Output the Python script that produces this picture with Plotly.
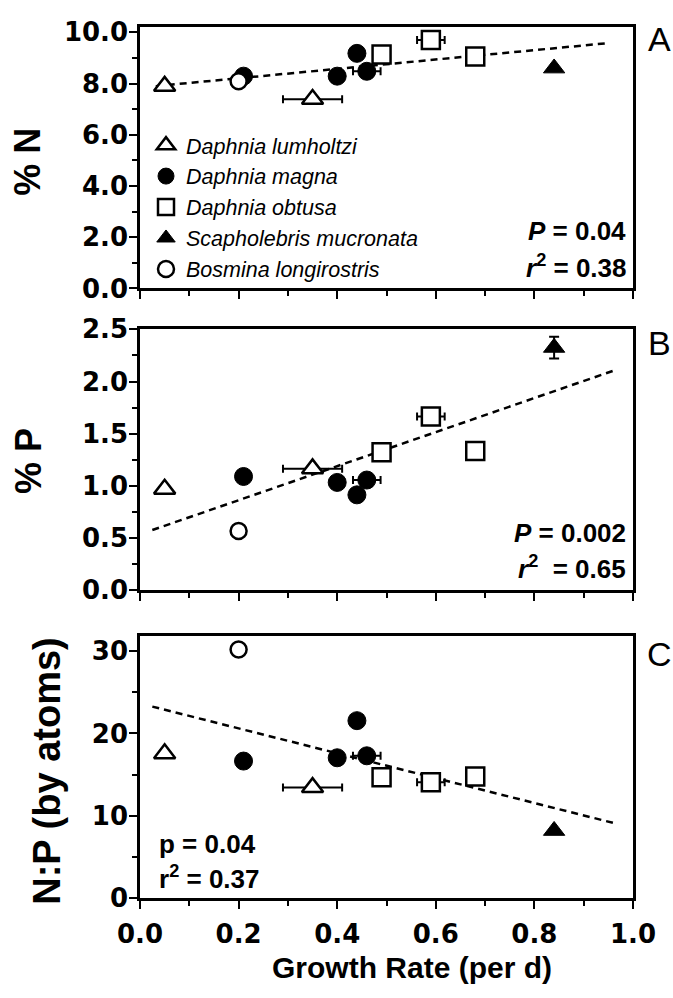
import plotly.graph_objects as go

# ---------------- data ----------------
species_names = ["Daphnia lumholtzi", "Daphnia magna", "Daphnia obtusa",
                 "Scapholebris mucronata", "Bosmina longirostris"]

lumholtzi_rate = [0.05, 0.35]
lumholtzi_rate_err = [0.0, 0.06]
lumholtzi_N = [7.90, 7.39]
lumholtzi_P = [0.97, 1.165]
lumholtzi_NP = [17.55, 13.44]

magna_rate = [0.21, 0.40, 0.44, 0.46]
magna_rate_err = [0.0, 0.0, 0.0, 0.028]
magna_N = [8.29, 8.29, 9.18, 8.48]
magna_P = [1.09, 1.033, 0.914, 1.056]
magna_NP = [16.64, 17.04, 21.55, 17.28]

obtusa_rate = [0.49, 0.59, 0.68]
obtusa_rate_err = [0.0, 0.028, 0.0]
obtusa_N = [9.14, 9.70, 9.06]
obtusa_P = [1.323, 1.664, 1.333]
obtusa_NP = [14.68, 14.08, 14.76]

scapho_rate = [0.84]
scapho_N = [8.60]
scapho_P = [2.325]
scapho_P_err = [0.105]
scapho_NP = [8.18]

bosmina_rate = [0.20]
bosmina_N = [8.09]
bosmina_P = [0.567]
bosmina_NP = [30.2]

# regression lines (end points)
trendA_x = [0.032, 0.944]
trendA_y = [7.90, 9.57]
trendB_x = [0.025, 0.965]
trendB_y = [0.577, 2.111]
trendC_x = [0.025, 0.965]
trendC_y = [23.26, 9.05]

x_ticks = [0.0, 0.2, 0.4, 0.6, 0.8, 1.0]
stats_A = ["<b><i>P</i> = 0.04</b>", "<b><i>r</i><sup>2</sup> = 0.38</b>"]
stats_B = ["<b><i>P</i> = 0.002</b>", "<b><i>r</i><sup>2</sup>  = 0.65</b>"]
stats_C = ["<b>p = 0.04</b>", "<b>r<sup>2</sup> = 0.37</b>"]

# ---------------- figure ----------------
W, H = 673, 998
ML, MR, MT, MB = 140, 40, 15, 100
PW = W - ML - MR
PH = H - MT - MB


def px2x(px):
    return (px - ML) / PW


def py2y(py):
    return (H - MB - py) / PH


domA = [py2y(280), 1.0]
domB = [py2y(586), py2y(321.5)]
domC = [0.0, py2y(632.3)]

fig = go.Figure()

# trend lines first (beneath markers)
for xs, ys, ax in [(trendA_x, trendA_y, ""), (trendB_x, trendB_y, "2"), (trendC_x, trendC_y, "3")]:
    fig.add_trace(go.Scatter(x=xs, y=ys, mode="lines", xaxis="x" + ax, yaxis="y" + ax,
                             line=dict(color="black", width=2.5, dash="7px,5px"),
                             showlegend=False, hoverinfo="skip"))

styles = [
    dict(symbol="triangle-up", size=18.5, color="white", line=dict(color="black", width=2.5)),
    dict(symbol="circle", size=18, color="black", line=dict(color="black", width=1)),
    dict(symbol="square", size=18, color="white", line=dict(color="black", width=2.5)),
    dict(symbol="triangle-up", size=18.5, color="black", line=dict(color="black", width=1)),
    dict(symbol="circle", size=16, color="white", line=dict(color="black", width=2.5)),
]

series = [
    (lumholtzi_rate, lumholtzi_rate_err, [lumholtzi_N, lumholtzi_P, lumholtzi_NP], None),
    (magna_rate, magna_rate_err, [magna_N, magna_P, magna_NP], None),
    (obtusa_rate, obtusa_rate_err, [obtusa_N, obtusa_P, obtusa_NP], None),
    (scapho_rate, None, [scapho_N, scapho_P, scapho_NP], scapho_P_err),
    (bosmina_rate, None, [bosmina_N, bosmina_P, bosmina_NP], None),
]

axes_ids = ["", "2", "3"]
for pi, ax in enumerate(axes_ids):
    for si, (rate, rerr, ys, perr) in enumerate(series):
        kw = {}
        if rerr is not None:
            kw["error_x"] = dict(type="data", array=rerr, visible=True, color="black",
                                 thickness=2, width=4)
        if perr is not None and pi == 1:
            kw["error_y"] = dict(type="data", array=perr, visible=True, color="black",
                                 thickness=2, width=5)
        fig.add_trace(go.Scatter(
            x=rate, y=ys[pi], mode="markers", name=species_names[si],
            xaxis="x" + ax, yaxis="y" + ax,
            marker=styles[si], showlegend=(pi == 0),
            **kw))

tickfont = dict(family="DejaVu Sans", size=26, color="black", weight="bold")

common_x = dict(range=[0, 1], showline=True, linewidth=2.5, linecolor="black", mirror=True,
                ticks="outside", ticklen=8, tickwidth=2, tickcolor="black",
                tickvals=x_ticks, tickformat=".1f",
                minor=dict(dtick=0.1, ticks="outside", ticklen=5, tickwidth=2, tickcolor="black"),
                showgrid=False, zeroline=False, tickfont=tickfont, fixedrange=True)

common_y = dict(showline=True, linewidth=2.5, linecolor="black", mirror=True,
                ticks="outside", ticklen=8, tickwidth=2, tickcolor="black",
                showgrid=False, zeroline=False, tickfont=tickfont, fixedrange=True,
                ticklabelstandoff=-4)

fig.update_layout(
    width=W, height=H,
    margin=dict(l=ML, r=MR, t=MT, b=MB),
    paper_bgcolor="white", plot_bgcolor="white",
    font=dict(family="Liberation Sans, Arial, sans-serif", color="black"),
    xaxis=dict(**common_x, anchor="y", showticklabels=False),
    xaxis2=dict(**common_x, anchor="y2", showticklabels=False, matches="x"),
    xaxis3=dict(**common_x, anchor="y3", showticklabels=True, matches="x",
                ticklabelstandoff=3),
    yaxis=dict(**common_y, domain=domA, anchor="x", range=[0, 10.21], dtick=2, tick0=0,
               tickformat=".1f",
               minor=dict(dtick=1, ticks="outside", ticklen=5, tickwidth=2, tickcolor="black")),
    yaxis2=dict(**common_y, domain=domB, anchor="x2", range=[0, 2.5], dtick=0.5, tick0=0,
                tickformat=".1f",
                minor=dict(dtick=0.25, ticks="outside", ticklen=5, tickwidth=2, tickcolor="black")),
    yaxis3=dict(**common_y, domain=domC, anchor="x3", range=[0, 31.85], dtick=10, tick0=0,
                tickformat="d",
                minor=dict(dtick=5, ticks="outside", ticklen=5, tickwidth=2, tickcolor="black")),
    showlegend=True,
    legend=dict(x=px2x(146), y=py2y(114), xanchor="left", yanchor="top",
                bgcolor="rgba(0,0,0,0)", borderwidth=0, tracegroupgap=0,
                font=dict(family="Liberation Sans, Arial, sans-serif", size=21.5,
                          style="italic", color="black"),
                itemclick=False, itemdoubleclick=False),
)

ann = []
# panel letters
for letter, py in [("A", 27), ("B", 335), ("C", 651)]:
    ann.append(dict(text=letter, x=px2x(659), y=py2y(py), xref="paper", yref="paper",
                    showarrow=False, xanchor="center", yanchor="middle",
                    font=dict(family="Liberation Sans, Arial, sans-serif", size=34, color="black")))

statfont = dict(family="Liberation Sans, Arial, sans-serif", size=26, color="black")
for txt, py in zip(stats_A, [222, 258]):
    ann.append(dict(text=txt, x=px2x(628), y=py2y(py), xref="paper", yref="paper",
                    showarrow=False, xanchor="right", yanchor="middle", font=statfont))
for txt, py in zip(stats_B, [528, 563]):
    ann.append(dict(text=txt, x=px2x(628), y=py2y(py), xref="paper", yref="paper",
                    showarrow=False, xanchor="right", yanchor="middle", font=statfont))
for txt, py in zip(stats_C, [843, 877]):
    ann.append(dict(text=txt, x=px2x(157), y=py2y(py), xref="paper", yref="paper",
                    showarrow=False, xanchor="left", yanchor="middle", font=statfont))

titlefont = dict(family="Liberation Sans, Arial, sans-serif", size=36, color="black", weight="bold")
for txt, px, py, fs in [("% N", 27.5, 152, 36), ("% P", 28, 455, 36), ("N:P (by atoms)", 47, 770, 38)]:
    ann.append(dict(text=txt, x=px2x(px), y=py2y(py), xref="paper", yref="paper",
                    showarrow=False, textangle=-90, xanchor="center", yanchor="middle",
                    font=dict(titlefont, size=fs)))
ann.append(dict(text="Growth Rate (per d)", x=px2x(412), y=py2y(968), xref="paper", yref="paper",
                showarrow=False, xanchor="center", yanchor="middle",
                font=dict(family="Liberation Sans, Arial, sans-serif", size=30, color="black",
                          weight="bold")))
fig.update_layout(annotations=ann)

fig.write_html("out.html", config={"displayModeBar": False},
               post_script="document.body.style.margin='0';document.body.style.overflow='hidden';")
